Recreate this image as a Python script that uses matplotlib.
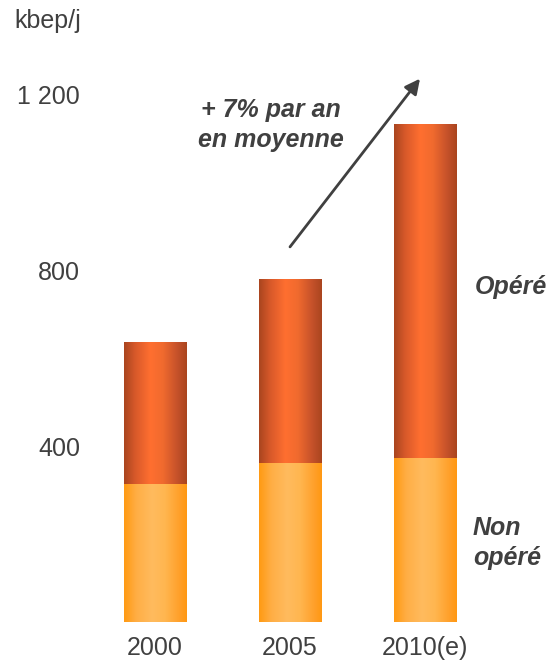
import matplotlib
matplotlib.use('Agg')
import matplotlib.pyplot as plt
import numpy as np
from matplotlib.colors import LinearSegmentedColormap

categories = ['2000', '2005', '2010(e)']
non_opere = [315, 362, 374]
opere = [323, 419, 760]
yticks = [400, 800, 1200]
ytick_labels = ['400', '800', '1 200']
unit_label = 'kbep/j'
growth_label = '+ 7% par an\nen moyenne'
series_labels = ['Non\nopéré', 'Opéré']

plt.rcParams['font.family'] = ['Liberation Sans', 'DejaVu Sans']
txt_color = '#404040'

fig = plt.figure(figsize=(5.53, 6.6), dpi=100)
ax = fig.add_axes([87.5 / 553, 38 / 660, 405 / 553, 571 / 660])

cmap_top = LinearSegmentedColormap.from_list(
    'top', [(0, '#A9451F'), (0.18, '#D8592A'), (0.42, '#FF6F30'),
            (0.62, '#F06A2E'), (0.85, '#C5512A'), (1, '#A9451F')])
cmap_bot = LinearSegmentedColormap.from_list(
    'bot', [(0, '#FF9A12'), (0.2, '#FFAE45'), (0.45, '#FFBB5E'),
            (0.65, '#FFB650'), (0.88, '#FFA02A'), (1, '#FF9812')])

x = np.arange(len(categories))
width = 0.46
grad = np.linspace(0, 1, 256).reshape(1, -1)

b1 = ax.bar(x, non_opere, width=width, color='none', edgecolor='none')
b2 = ax.bar(x, opere, width=width, bottom=non_opere, color='none', edgecolor='none')

for bars, cmap in ((b1, cmap_bot), (b2, cmap_top)):
    for p in bars:
        x0, y0 = p.get_x(), p.get_y()
        im = ax.imshow(grad, cmap=cmap, aspect='auto',
                       extent=(x0, x0 + p.get_width(), y0, y0 + p.get_height()),
                       interpolation='bicubic', zorder=2)
        im.set_clip_path(p)

ax.set_xlim(-0.5, 2.5)
ax.set_ylim(0, 1300)

for s in ax.spines.values():
    s.set_visible(False)

ax.set_yticks(yticks, ytick_labels)
ax.set_xticks(x, categories)
ax.tick_params(axis='y', length=0, pad=5.4, labelsize=18, labelcolor=txt_color)
ax.tick_params(axis='x', length=0, pad=10, labelsize=18, labelcolor=txt_color)

fig.text(81 / 553, 1 - 21 / 660, unit_label, ha='right', va='center',
         fontsize=18, color=txt_color)

ax.annotate('', xy=(1.963, 1237), xytext=(1.0, 854),
            arrowprops=dict(arrowstyle='-|>,head_length=0.9,head_width=0.45',
                            color=txt_color, lw=2, shrinkA=0, shrinkB=0))
ax.text(1.0 - 0.145, 1131, growth_label, ha='center', va='center', fontsize=18,
        fontweight='bold', fontstyle='italic', color=txt_color, linespacing=1.34)

ax.text(2.37, 763, series_labels[1], ha='left', va='center', fontsize=18,
        fontweight='bold', fontstyle='italic', color=txt_color)
ax.text(2.355, 180, series_labels[0], ha='left', va='center', fontsize=18,
        fontweight='bold', fontstyle='italic', color=txt_color, linespacing=1.28)

fig.savefig('out.png', dpi=100)
